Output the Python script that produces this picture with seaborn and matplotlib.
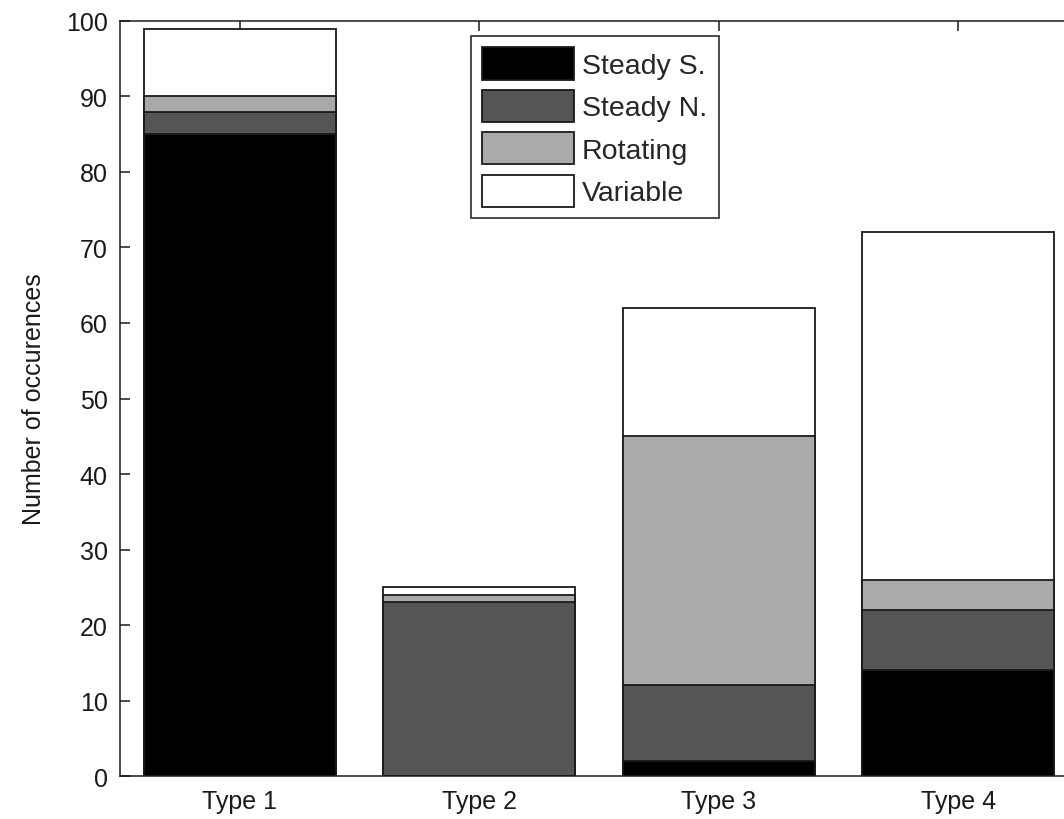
import matplotlib
matplotlib.use("Agg")
import matplotlib.pyplot as plt
import seaborn as sns
import pandas as pd
import numpy as np
from matplotlib.patches import Patch

# Occurrence counts per regime type
categories = ["Type 1", "Type 2", "Type 3", "Type 4"]
steady_s = [85, 0, 2, 14]
steady_n = [3, 23, 10, 8]
rotating = [2, 1, 33, 4]
variable = [9, 1, 17, 46]

series_names = ["Steady S.", "Steady N.", "Rotating", "Variable"]
series_values = [steady_s, steady_n, rotating, variable]
series_colors = ["#000000", "#555555", "#aaaaaa", "#ffffff"]

sns.set_theme(style="white")
plt.rcParams["font.family"] = ["Liberation Sans", "DejaVu Sans"]

fig = plt.figure(figsize=(10.64, 8.20), dpi=100)
ax = fig.add_axes([0.1128, 0.0524, 0.9004, 0.9208])

# Cumulative tops, drawn from the highest layer down so each layer covers the one above's base
tops = np.cumsum(np.array(series_values), axis=0)
for name, top, color in reversed(list(zip(series_names, tops, series_colors))):
    df = pd.DataFrame({"category": categories, "count": top})
    sns.barplot(data=df, x="category", y="count", color=color, saturation=1,
                edgecolor="#1a1a1a", linewidth=1.3, width=0.8, ax=ax,
                order=categories)

ax.set_xlim(-0.5, 3.5)
ax.set_ylim(0, 100)
ax.set_yticks(np.arange(0, 101, 10))
ax.set_xlabel("")
ax.set_ylabel("Number of occurences", fontsize=18, labelpad=14, color="#1a1a1a")

for side in ["left", "right", "top", "bottom"]:
    ax.spines[side].set_visible(True)
    ax.spines[side].set_color("#1a1a1a")
    ax.spines[side].set_linewidth(1.1)

ax.tick_params(axis="both", direction="in", length=7, width=1.1, color="#1a1a1a",
               labelsize=18, labelcolor="#1a1a1a",
               top=True, right=True, bottom=True, left=True)
ax.tick_params(axis="y", pad=9)
ax.tick_params(axis="x", pad=9)

handles = [Patch(facecolor=c, edgecolor="#1a1a1a", linewidth=1.3, label=n)
           for n, c in zip(series_names, series_colors)]
leg = ax.legend(handles=handles, loc="upper left",
                bbox_to_anchor=(471 / 1064, 1 - 37 / 820), bbox_transform=fig.transFigure,
                fontsize=20.5, frameon=True, fancybox=False, framealpha=1,
                edgecolor="#1a1a1a", handlelength=3.2, handleheight=1.36,
                handletextpad=0.3, labelspacing=0.36, borderpad=0.4, borderaxespad=0)
leg.get_frame().set_linewidth(1.1)

fig.savefig("out.png", dpi=100, facecolor="white")
